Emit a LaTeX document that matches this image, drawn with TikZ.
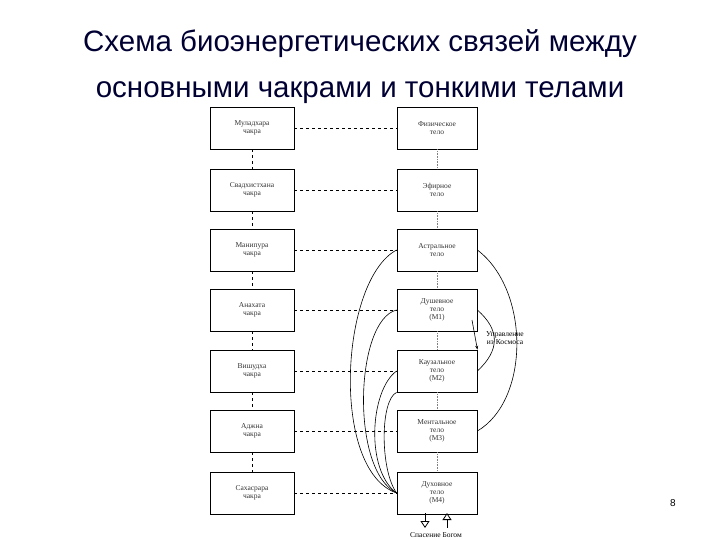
\documentclass[tikz,border=0pt]{standalone}
\usepackage{fontspec}
\setmainfont{Liberation Sans}
\newfontfamily\serifbox{Liberation Serif}
\usetikzlibrary{arrows.meta}
\begin{document}
\begin{tikzpicture}[x=1pt,y=-1pt,
 box/.style={draw,line width=0.8pt,minimum width=84pt,minimum height=42pt,align=center,font=\serifbox\fontsize{7.5}{8}\selectfont,text=black!80},
 rbox/.style={box,minimum width=80pt},
 dl/.style={dashed,line width=0.7pt},
 dv/.style={densely dotted,line width=0.6pt,gray},
 cv/.style={line width=0.6pt}]
\useasboundingbox (0,0) rectangle (720,540);
\node[font=\fontsize{29.5}{46}\selectfont,text=black!80!blue,align=center] (title) at (360,67) {Схема биоэнергетических связей между\\основными чакрами и тонкими телами};
\foreach \n/\y/\t in {1/128/Муладхара\\чакра,2/190/Свадхистхана\\чакра,3/250/Манипура\\чакра,4/310/Анахата\\чакра,5/371/Вишудха\\чакра,6/431/Аджна\\чакра,7/493/Сахасрара\\чакра}
  \node[box] (L\n) at (252,\y) {\t};
\foreach \n/\y/\t in {1/128/Физическое\\тело,2/190/Эфирное\\тело,3/250/Астральное\\тело,4/310/Душевное\\тело\\(М1),5/371/Каузальное\\тело\\(М2),6/431/Ментальное\\тело\\(М3),7/493/Духовное\\тело\\(М4)}
  \node[rbox] (R\n) at (437,\y) {\t};
\foreach \n in {1,...,7} \draw[dl] (L\n) -- (R\n);
\foreach \a/\b in {1/2,2/3,3/4,4/5,5/6,6/7} {\draw[dl] (L\a) -- (L\b); \draw[dv] (R\a) -- (R\b);}
\draw[cv] (R7.west) .. controls (330,470) and (340,280) .. (R3.west);
\draw[cv] (R7.west) .. controls (350,470) and (355,320) .. (R4.west);
\draw[cv] (R7.west) .. controls (365,470) and (370,390) .. (R5.west);
\draw[cv] (R7.west) .. controls (380,470) and (380,400) .. (R5.south west);
\draw[cv] (R3.east) .. controls (530,290) and (530,400) .. (R6.east);
\draw[cv] (R4.east) .. controls (500,330) and (500,350) .. (R5.east);
\draw[cv,-{Stealth[length=4pt]}] (472,320) -- (R5.north east);
\node[font=\serifbox\fontsize{7.5}{8}\selectfont,align=center] (ctrl) at (505,338) {Управление\\из Космоса};
\coordinate (d1) at (425,513); \coordinate (d2) at (447,513);
\draw[line width=0.8pt,-{Triangle[open,length=7pt,width=9pt]}] (d1) -- ++(0,15);
\draw[line width=0.8pt,{Triangle[open,length=7pt,width=9pt]}-] (d2) -- ++(0,15);
\node[font=\serifbox\fontsize{7.5}{8}\selectfont] (sp) at (436,535) {Спасение Богом};
\node[font=\fontsize{10}{12}\selectfont] (pg) at (673,503) {8};
\end{tikzpicture}
\end{document}
